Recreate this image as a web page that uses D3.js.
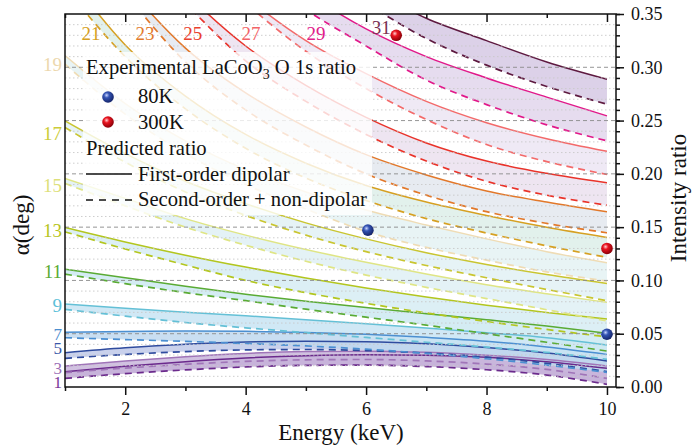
<!DOCTYPE html>
<html><head><meta charset="utf-8">
<script src="https://cdn.jsdelivr.net/npm/d3@7"></script>
<style>body{margin:0;background:#fff}svg{display:block}text{font-family:"Liberation Serif","Times New Roman",serif}</style>
</head><body><svg id="c" width="692" height="448"></svg>
<script>
// ---------- data ----------
const energy = [1, 2, 3, 4, 5, 6, 7, 8, 9, 10];
const alphas = [1, 3, 5, 7, 9, 11, 13, 15, 17, 19, 21, 23, 25, 27, 29, 31];
// first-order dipolar (solid)
const firstOrder = [
  [0.0144, 0.0195, 0.0238, 0.0272, 0.0294, 0.0303, 0.0298, 0.0278, 0.0238, 0.0175],
  [0.0197, 0.0245, 0.0285, 0.0315, 0.0332, 0.0336, 0.0325, 0.0298, 0.0257, 0.0197],
  [0.0322, 0.0368, 0.0402, 0.0422, 0.0430, 0.0425, 0.0405, 0.0370, 0.0318, 0.0244],
  [0.0513, 0.0520, 0.0525, 0.0522, 0.0512, 0.0494, 0.0466, 0.0430, 0.0375, 0.0306],
  [0.0778, 0.0738, 0.0702, 0.0668, 0.0632, 0.0594, 0.0553, 0.0510, 0.0462, 0.0394],
  [0.1106, 0.1025, 0.0945, 0.0870, 0.0805, 0.0745, 0.0688, 0.0632, 0.0572, 0.0503],
  [0.1497, 0.1361, 0.1237, 0.1125, 0.1023, 0.0930, 0.0845, 0.0768, 0.0699, 0.0637],
  [0.1956, 0.1770, 0.1580, 0.1425, 0.1290, 0.1170, 0.1060, 0.0960, 0.0875, 0.0794],
  [0.2497, 0.2190, 0.1930, 0.1720, 0.1540, 0.1390, 0.1260, 0.1150, 0.1055, 0.0972],
  [0.3110, 0.2660, 0.2310, 0.2040, 0.1830, 0.1660, 0.1520, 0.1390, 0.1270, 0.1166],
  [0.3900, 0.3210, 0.2730, 0.2370, 0.2100, 0.1890, 0.1735, 0.1610, 0.1498, 0.1403],
  [0.4500, 0.3780, 0.3180, 0.2760, 0.2440, 0.2180, 0.1990, 0.1840, 0.1735, 0.1644],
  [null,   0.4300, 0.3700, 0.3200, 0.2830, 0.2530, 0.2290, 0.2120, 0.2005, 0.1916],
  [null,   null,   0.4150, 0.3660, 0.3250, 0.2940, 0.2680, 0.2480, 0.2330, 0.2212],
  [null,   null,   null,   0.4100, 0.3700, 0.3360, 0.3100, 0.2900, 0.2720, 0.2544],
  [null,   null,   null,   null,   0.4050, 0.3750, 0.3460, 0.3250, 0.3050, 0.2888]
];
// second-order + non-dipolar (dashed)
const secondOrder = [
  [0.0081, 0.0125, 0.0160, 0.0188, 0.0203, 0.0205, 0.0192, 0.0162, 0.0112, 0.0025],
  [0.0135, 0.0178, 0.0213, 0.0240, 0.0255, 0.0258, 0.0245, 0.0215, 0.0165, 0.0081],
  [0.0269, 0.0305, 0.0332, 0.0348, 0.0352, 0.0342, 0.0318, 0.0280, 0.0222, 0.0144],
  [0.0462, 0.0445, 0.0428, 0.0408, 0.0385, 0.0355, 0.0315, 0.0265, 0.0205, 0.0138],
  [0.0728, 0.0665, 0.0605, 0.0555, 0.0510, 0.0465, 0.0420, 0.0375, 0.0325, 0.0260],
  [0.1059, 0.0970, 0.0885, 0.0810, 0.0730, 0.0655, 0.0580, 0.0500, 0.0420, 0.0337],
  [0.1456, 0.1295, 0.1145, 0.1000, 0.0885, 0.0785, 0.0695, 0.0615, 0.0540, 0.0470],
  [0.1910, 0.1700, 0.1500, 0.1330, 0.1180, 0.1050, 0.0935, 0.0830, 0.0725, 0.0620],
  [0.2435, 0.2110, 0.1830, 0.1610, 0.1425, 0.1270, 0.1140, 0.1025, 0.0915, 0.0810],
  [0.3030, 0.2560, 0.2190, 0.1900, 0.1670, 0.1460, 0.1310, 0.1190, 0.1080, 0.0994],
  [0.3750, 0.3100, 0.2610, 0.2240, 0.1960, 0.1750, 0.1580, 0.1445, 0.1325, 0.1216],
  [0.4450, 0.3700, 0.3050, 0.2600, 0.2270, 0.2000, 0.1800, 0.1645, 0.1535, 0.1447],
  [null,   0.4200, 0.3600, 0.3060, 0.2680, 0.2370, 0.2120, 0.1930, 0.1800, 0.1706],
  [null,   null,   0.4100, 0.3600, 0.3150, 0.2800, 0.2510, 0.2275, 0.2115, 0.1994],
  [null,   null,   null,   0.3950, 0.3540, 0.3200, 0.2880, 0.2650, 0.2460, 0.2310],
  [null,   null,   null,   null,   0.3950, 0.3600, 0.3270, 0.3020, 0.2820, 0.2653]
];
const lineColors = ["#6b2a8c","#a075b8","#2f4b9e","#4b8fd1","#64c0d6","#5aab34","#b3c61f","#dfe585",
                    "#c9c530","#efdcb5","#d6a022","#e2782a","#e9332a","#f36a6a","#e1198a","#5e1a40"];
const fillColors = ["#bda6d3","#c9b6dc","#bfc9e9","#c0d8ef","#c8e4f3","#cde9f1","#d6ecf3","#dff0f5",
                    "#e2f1f4","#e4f2f3","#ddeee9","#e3e7ef","#ebe1ef","#ece5f3","#e2d6ec","#d6c9e4"];
const labelColors = ["#7b3a9a","#9b6fb7","#3a57a8","#4c8ecf","#5cc0d8","#5aab34","#b7c424","#dde07a",
                     "#cccc3a","#ecd7ad","#d6a022","#e27a2c","#e9402e","#f26468","#e0208a","#7a3052"];
// alpha labels on the left edge (ratio where the label sits at E = 1)
const leftLabelAlpha = [1, 3, 5, 7, 9, 11, 13, 15, 17, 19];
const leftLabelRatio = [0.0045, 0.0182, 0.0362, 0.0497, 0.0769, 0.1083, 0.1472, 0.1889, 0.2381, 0.3028];
// alpha labels along the top edge
const topLabelAlpha = [21, 23, 25, 27, 29, 31];
const topLabelEnergy = [1.43, 2.33, 3.12, 4.09, 5.17, 6.25];
const topLabelRatio = [0.332, 0.332, 0.332, 0.332, 0.332, 0.3375];
// experiment
const exp80KEnergy = [6.03, 10.0];
const exp80KRatio = [0.1472, 0.0495];
const exp300KEnergy = [6.5, 10.0];
const exp300KRatio = [0.330, 0.130];
// axes
const xMajorTicks = [2, 4, 6, 8, 10];
const xMinorTicks = [1, 3, 5, 7, 9];
const yMajorTicks = [0, 0.05, 0.10, 0.15, 0.20, 0.25, 0.30, 0.35];
const yMinorTicks = d3.range(0, 36).map(i => i / 100);

// ---------- layout ----------
const L = 65, R = 616, T = 14, B = 387;
const FONT = "Liberation Serif, Times New Roman, serif";
const svg = d3.select("#c");
const x = d3.scaleLinear().domain([1, 10.15]).range([L, R]);
const y = d3.scaleLinear().domain([0, 0.35]).range([B, T]);

const defs = svg.append("defs");
defs.append("clipPath").attr("id", "clip").append("rect")
  .attr("x", L).attr("y", T).attr("width", R - L).attr("height", B - T);
function ball(id, c0, c1, c2) {
  const g = defs.append("radialGradient").attr("id", id).attr("cx", "38%").attr("cy", "35%").attr("r", "65%");
  g.append("stop").attr("offset", "0%").attr("stop-color", c0);
  g.append("stop").attr("offset", "35%").attr("stop-color", c1);
  g.append("stop").attr("offset", "100%").attr("stop-color", c2);
}
ball("gBlue", "#c8d4ff", "#3454b4", "#15246a");
ball("gRed", "#ffd0d0", "#ea1420", "#8a0008");

const plot = svg.append("g").attr("clip-path", "url(#clip)");

const rows = alphas.map((a, i) => energy.map((e, j) => ({ e, s: firstOrder[i][j], d: secondOrder[i][j] })));

// bands
rows.forEach((r, i) => {
  const area = d3.area().defined(p => p.s != null && p.d != null)
    .x(p => x(p.e)).y0(p => y(p.d)).y1(p => y(p.s)).curve(d3.curveMonotoneX);
  plot.append("path").attr("d", area(r)).attr("fill", fillColors[i]).attr("fill-opacity", 0.85);
});

// grid
const grid = svg.append("g");
yMinorTicks.filter(v => Math.round(v * 100) % 5 !== 0).forEach(v => {
  grid.append("line").attr("x1", L).attr("x2", R).attr("y1", y(v)).attr("y2", y(v))
    .attr("stroke", "#c8c8c8").attr("stroke-width", 0.9).attr("stroke-dasharray", "1.5,2.5");
});
yMajorTicks.filter(v => v > 0 && v < 0.35).forEach(v => {
  grid.append("line").attr("x1", L).attr("x2", R).attr("y1", y(v)).attr("y2", y(v))
    .attr("stroke", "#8a8a8a").attr("stroke-width", 0.9).attr("stroke-dasharray", "4,3");
});

// lines
rows.forEach((r, i) => {
  const ls = d3.line().defined(p => p.s != null).x(p => x(p.e)).y(p => y(p.s)).curve(d3.curveMonotoneX);
  const ld = d3.line().defined(p => p.d != null).x(p => x(p.e)).y(p => y(p.d)).curve(d3.curveMonotoneX);
  plot.append("path").attr("d", ld(r)).attr("fill", "none").attr("stroke", lineColors[i])
    .attr("stroke-width", 1.7).attr("stroke-dasharray", "7,5");
  plot.append("path").attr("d", ls(r)).attr("fill", "none").attr("stroke", lineColors[i])
    .attr("stroke-width", 1.5);
});

// experimental points
function drawBall(g, cx, cy, grad) {
  g.append("circle").attr("cx", cx).attr("cy", cy).attr("r", 5.8).attr("fill", `url(#${grad})`);
}
exp80KEnergy.forEach((e, i) => drawBall(svg, x(e), y(exp80KRatio[i]), "gBlue"));
exp300KEnergy.forEach((e, i) => drawBall(svg, x(e), y(exp300KRatio[i]), "gRed"));

// legend
const lg = svg.append("g").attr("font-family", FONT);
lg.append("rect").attr("x", 83).attr("y", 52).attr("width", 289).attr("height", 163)
  .attr("fill", "#fff").attr("fill-opacity", 0.8);
const fs = 20.6;
const t1 = lg.append("text").attr("x", 86).attr("y", 73.5).attr("font-size", fs).attr("fill", "#111");
t1.append("tspan").text("Experimental LaCoO");
t1.append("tspan").attr("font-size", 14).attr("dy", 5).text("3");
t1.append("tspan").attr("dy", -5).text(" O 1s ratio");
drawBall(lg, 108, 97, "gBlue");
drawBall(lg, 108, 122, "gRed");
lg.append("text").attr("x", 138).attr("y", 103).attr("font-size", fs).attr("fill", "#111").text("80K");
lg.append("text").attr("x", 138).attr("y", 129).attr("font-size", fs).attr("fill", "#111").text("300K");
lg.append("text").attr("x", 86).attr("y", 155).attr("font-size", fs).attr("fill", "#111").text("Predicted ratio");
lg.append("line").attr("x1", 86).attr("x2", 132).attr("y1", 174).attr("y2", 174).attr("stroke", "#111").attr("stroke-width", 1.5);
lg.append("text").attr("x", 138).attr("y", 181).attr("font-size", fs).attr("fill", "#111").text("First-order dipolar");
lg.append("line").attr("x1", 86).attr("x2", 132).attr("y1", 200).attr("y2", 200).attr("stroke", "#111").attr("stroke-width", 1.5).attr("stroke-dasharray", "7,6");
lg.append("text").attr("x", 138).attr("y", 206).attr("font-size", fs).attr("fill", "#111").text("Second-order + non-dipolar");

// alpha labels
leftLabelAlpha.forEach((a, i) => {
  svg.append("text").attr("x", 62).attr("y", y(leftLabelRatio[i])).attr("dy", "0.35em")
    .attr("text-anchor", "end").attr("font-size", a <= 7 ? 17 : 19).attr("font-family", FONT)
    .attr("fill", labelColors[alphas.indexOf(a)]).text(a);
});
topLabelAlpha.forEach((a, i) => {
  svg.append("text").attr("x", x(topLabelEnergy[i])).attr("y", y(topLabelRatio[i])).attr("dy", "0.35em")
    .attr("text-anchor", "middle").attr("font-size", 19).attr("font-family", FONT)
    .attr("fill", labelColors[alphas.indexOf(a)]).text(a);
});

// axes
svg.append("rect").attr("x", L).attr("y", T).attr("width", R - L).attr("height", B - T)
  .attr("fill", "none").attr("stroke", "#111").attr("stroke-width", 1.5);
function styleAxis(g) {
  g.attr("font-family", FONT);
  g.select(".domain").remove();
  g.selectAll(".tick line").attr("stroke", "#111").attr("stroke-width", 1.5);
  g.selectAll(".tick text").attr("fill", "#111").attr("font-size", 18);
}
svg.append("g").attr("transform", `translate(0,${B})`)
  .call(d3.axisBottom(x).tickValues(xMajorTicks).tickSize(8).tickPadding(7).tickFormat(d3.format("d"))).call(styleAxis);
svg.append("g").attr("transform", `translate(0,${B})`)
  .call(d3.axisBottom(x).tickValues(xMinorTicks).tickSize(4).tickFormat("")).call(styleAxis);
svg.append("g").attr("transform", `translate(0,${T})`)
  .call(d3.axisBottom(x).tickValues(xMajorTicks).tickSize(8).tickFormat("")).call(styleAxis);
svg.append("g").attr("transform", `translate(0,${T})`)
  .call(d3.axisBottom(x).tickValues(xMinorTicks).tickSize(4).tickFormat("")).call(styleAxis);
svg.append("g").attr("transform", `translate(${R},0)`)
  .call(d3.axisRight(y).tickValues(yMajorTicks).tickSize(8).tickPadding(7).tickFormat(d3.format(".2f"))).call(styleAxis);
svg.append("g").attr("transform", `translate(${R},0)`)
  .call(d3.axisRight(y).tickValues(yMinorTicks).tickSize(4).tickFormat("")).call(styleAxis);

// axis titles
svg.append("text").attr("x", 341).attr("y", 440).attr("text-anchor", "middle").attr("font-size", 23)
  .attr("font-family", FONT).attr("fill", "#111").text("Energy (keV)");
svg.append("text").attr("transform", "translate(29,225) rotate(-90)").attr("text-anchor", "middle")
  .attr("font-size", 23).attr("font-family", FONT).attr("fill", "#111").text("α(deg)");
svg.append("text").attr("transform", "translate(686,198) rotate(-90)").attr("text-anchor", "middle")
  .attr("font-size", 23).attr("font-family", FONT).attr("fill", "#111").text("Intensity ratio");
</script></body></html>
